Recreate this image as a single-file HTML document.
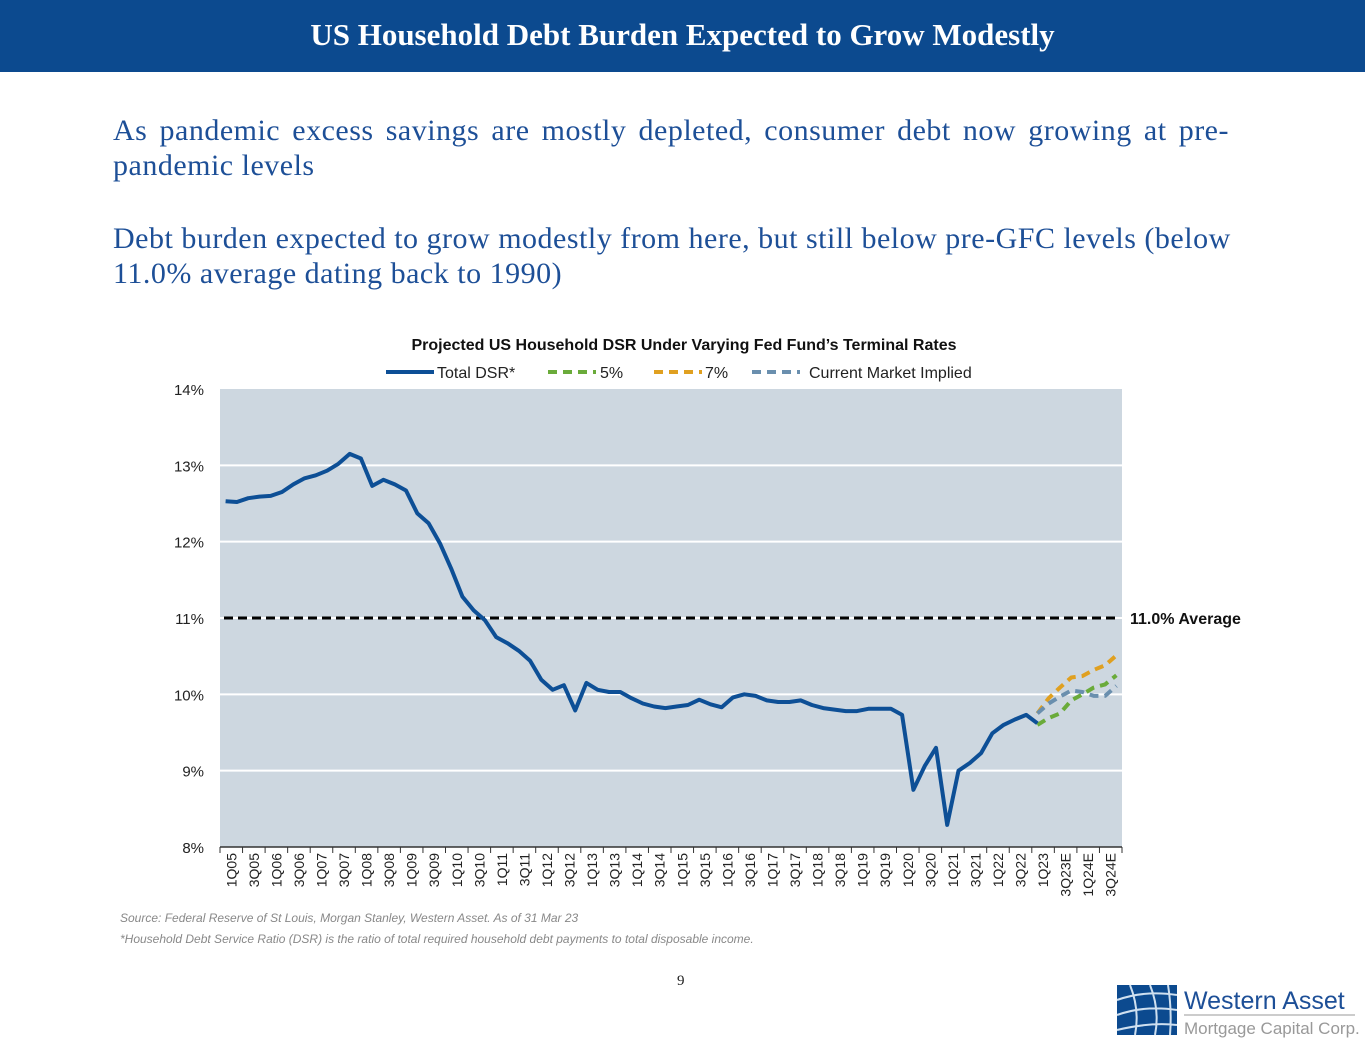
<!DOCTYPE html>
<html><head><meta charset="utf-8"><style>
body{margin:0;width:1365px;height:1055px;background:#fff;position:relative;overflow:hidden;font-family:"Liberation Serif",serif}
#hdr{position:absolute;left:0;top:0;width:1365px;height:72px;background:#0c4a8f;color:#fff;font-weight:bold;font-size:31px;text-align:center;line-height:70px}
.p{position:absolute;left:113px;width:1116px;color:#1d4f97;font-size:30px;letter-spacing:0.5px;line-height:35px;text-align:justify}
#pg{position:absolute;left:677px;top:973px;font-size:15px;color:#222}
.fn{position:absolute;left:120px;font-family:"Liberation Sans",sans-serif;font-style:italic;font-size:12px;color:#888}
</style></head><body>
<div id="hdr">US Household Debt Burden Expected to Grow Modestly</div>
<div class="p" style="top:113px">As pandemic excess savings are mostly depleted, consumer debt now growing at pre-pandemic levels</div>
<div class="p" style="top:221px;width:1130px;text-align:left">Debt burden expected to grow modestly from here, but still below pre-GFC levels (below 11.0% average dating back to 1990)</div>
<svg id="chart" style="position:absolute;left:0;top:0" width="1365" height="1055" font-family="Liberation Sans, sans-serif"></svg>
<div class="fn" style="top:911px">Source: Federal Reserve of St Louis, Morgan Stanley, Western Asset. As of 31 Mar 23</div>
<div class="fn" style="top:932px">*Household Debt Service Ratio (DSR) is the ratio of total required household debt payments to total disposable income.</div>
<div id="pg">9</div>
<svg style="position:absolute;left:1110px;top:980px" width="255" height="60">
<rect x="7" y="5" width="60" height="50" fill="#0c4a8f"/>
<path d="M7 20 Q35 10 67 15 M7 35 Q35 25 67 30 M7 50 Q40 42 67 45 M20 5 Q30 30 25 55 M40 5 Q50 30 45 55 M58 5 Q62 30 60 55" stroke="#cfe0f0" stroke-width="2" fill="none"/>
<text x="74" y="29" font-family="Liberation Sans, sans-serif" font-size="25" fill="#1d4f97">Western Asset</text>
<line x1="74" y1="35" x2="245" y2="35" stroke="#999"/>
<text x="74" y="54" font-family="Liberation Sans, sans-serif" font-size="17" fill="#999">Mortgage Capital Corp.</text>
</svg>
<script>
const yTicks=[8,9,10,11,12,13,14];
const xLabels=["1Q05","3Q05","1Q06","3Q06","1Q07","3Q07","1Q08","3Q08","1Q09","3Q09","1Q10","3Q10","1Q11","3Q11","1Q12","3Q12","1Q13","3Q13","1Q14","3Q14","1Q15","3Q15","1Q16","3Q16","1Q17","3Q17","1Q18","3Q18","1Q19","3Q19","1Q20","3Q20","1Q21","3Q21","1Q22","3Q22","1Q23","3Q23E","1Q24E","3Q24E"];
const totalDSR=[12.53,12.52,12.57,12.59,12.60,12.65,12.75,12.83,12.87,12.93,13.02,13.15,13.09,12.73,12.81,12.75,12.67,12.37,12.24,11.98,11.65,11.28,11.1,10.97,10.75,10.67,10.57,10.44,10.19,10.06,10.12,9.79,10.15,10.06,10.03,10.03,9.95,9.88,9.84,9.82,9.84,9.86,9.93,9.87,9.83,9.96,10.0,9.98,9.92,9.9,9.9,9.92,9.86,9.82,9.8,9.78,9.78,9.81,9.81,9.81,9.73,8.75,9.06,9.3,8.29,9.0,9.1,9.23,9.49,9.6,9.67,9.73,9.62];
const proj5=[9.6,9.69,9.75,9.92,10.0,10.09,10.13,10.25];
const proj7=[9.75,9.95,10.09,10.22,10.24,10.32,10.38,10.51];
const projMkt=[9.75,9.88,9.97,10.05,10.03,9.98,9.98,10.11];
const average=11.0;
const projStart=72, nQ=80;
const X0=220,X1=1122,Y0=847,Y1=389;
const sx=i=>X0+(i+0.5)*(X1-X0)/nQ;
const sy=v=>Y0-(v-8)*(Y0-Y1)/6;
const svg=document.getElementById('chart');const NS='http://www.w3.org/2000/svg';
function el(t,a,p){const e=document.createElementNS(NS,t);for(const k in a)e.setAttribute(k,a[k]);(p||svg).appendChild(e);return e;}
let bg=el('rect',{x:X0,y:Y1,width:X1-X0,height:Y0-Y1,fill:'#cdd7e0'});


yTicks.forEach(v=>{
 if(v>8&&v<14){let g=el('line',{x1:X0,x2:X1,y1:sy(v),y2:sy(v),stroke:'#fff','stroke-width':2});
 
 }
 let t=el('text',{x:204,y:sy(v)+6,'text-anchor':'end','font-size':15,fill:'#222'});t.textContent=v+'%';
 
 
});
el('line',{x1:X0,x2:X1,y1:Y0,y2:Y0,stroke:'#333','stroke-width':1.5});
const step=(X1-X0)/nQ*2;
for(let k=0;k<=xLabels.length;k++){el('line',{x1:X0+k*step,x2:X0+k*step,y1:Y0,y2:Y0+6,stroke:'#333'});}
xLabels.forEach((l,k)=>{const x=X0+k*step+step/2+5,y=853;
 let t=el('text',{x:x,y:y,'text-anchor':'end','font-size':14,fill:'#222',transform:`rotate(-90 ${x} ${y})`});t.textContent=l;
 
 });
let av=el('line',{x1:224,x2:1118,y1:sy(average),y2:sy(average),stroke:'#000','stroke-width':3,'stroke-dasharray':'9 5'});


let at=el('text',{x:1130,y:sy(average)+6,'font-size':16,'font-weight':'bold',fill:'#111'});at.textContent='11.0% Average';


function line(arr,off,color,dash,name){
 const d=arr.map((v,i)=>(i?'L':'M')+sx(i+off).toFixed(1)+' '+sy(v).toFixed(1)).join(' ');
 const a={d:d,fill:'none',stroke:color,'stroke-width':4,'stroke-linejoin':'round'};if(dash)a['stroke-dasharray']=dash;
 const p=el('path',a);
 
 
}
line(proj7,projStart,'#e0a020','9 6','series-7pct');
line(proj5,projStart,'#6aab3a','9 6','series-5pct');
line(projMkt,projStart,'#6a8fae','9 6','series-market-implied');
line(totalDSR,0,'#0d4f96',null,'series-total-dsr');
let tt=el('text',{x:684,y:350,'text-anchor':'middle','font-size':16,'font-weight':'bold',fill:'#111'});tt.textContent='Projected US Household DSR Under Varying Fed Fund\u2019s Terminal Rates';


const leg=[['Total DSR*','#0d4f96',null,386,437],['5%','#6aab3a','9 6',548,600],['7%','#e0a020','9 6',654,705],['Current Market Implied','#6a8fae','9 6',752,809]];
leg.forEach(([n,c,d,x1,tx])=>{const a={x1:x1,x2:x1+48,y1:372,y2:372,stroke:c,'stroke-width':4};if(d)a['stroke-dasharray']=d;
 let l=el('line',a);
 
 
 let t=el('text',{x:tx,y:378,'font-size':16,fill:'#222'});t.textContent=n;
 
 });
</script>
</body></html>
